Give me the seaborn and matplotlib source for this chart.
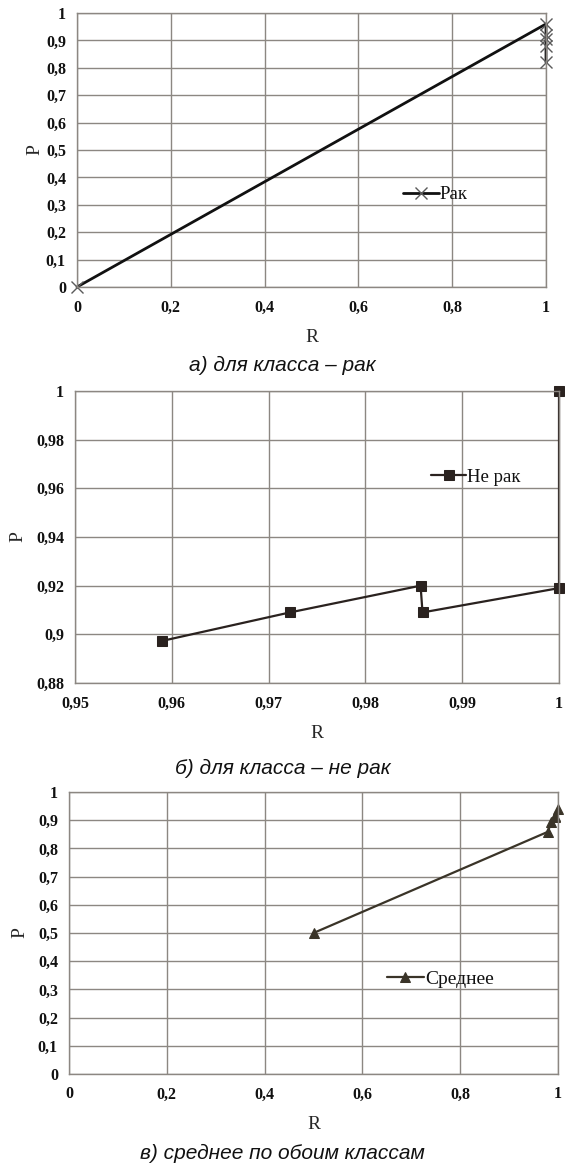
import matplotlib
matplotlib.use("Agg")
import matplotlib.pyplot as plt
import seaborn as sns
import pandas as pd

# ---- data ----
rak_R = [0.0, 1.0, 1.0, 1.0, 1.0, 1.0]
rak_P = [0.0, 0.96, 0.92, 0.905, 0.88, 0.82]

nerak_R = [0.959, 0.9722, 0.9857, 0.9859, 1.0, 1.0]
nerak_P = [0.8973, 0.909, 0.920, 0.909, 0.919, 1.0]

avg_R = [0.5, 0.9795, 0.986, 0.9929, 0.993, 1.0]
avg_P = [0.5, 0.859, 0.8945, 0.9125, 0.9145, 0.9395]

ticks_01 = [0, 0.1, 0.2, 0.3, 0.4, 0.5, 0.6, 0.7, 0.8, 0.9, 1.0]
ticks_01_labels = ["0", "0,1", "0,2", "0,3", "0,4", "0,5", "0,6", "0,7", "0,8", "0,9", "1"]
xticks_02 = [0, 0.2, 0.4, 0.6, 0.8, 1.0]
xticks_02_labels = ["0", "0,2", "0,4", "0,6", "0,8", "1"]
ticks_b_x = [0.95, 0.96, 0.97, 0.98, 0.99, 1.0]
ticks_b_x_labels = ["0,95", "0,96", "0,97", "0,98", "0,99", "1"]
ticks_b_y = [0.88, 0.90, 0.92, 0.94, 0.96, 0.98, 1.0]
ticks_b_y_labels = ["0,88", "0,9", "0,92", "0,94", "0,96", "0,98", "1"]

legend_rak = "Рак"
legend_nerak = "Не рак"
legend_avg = "Среднее"
captions = ["а) для класса – рак", "б) для класса – не рак", "в) среднее по обоим классам"]

sns.set_style("white")
plt.rcParams["font.family"] = ["Liberation Serif", "DejaVu Serif"]

fig = plt.figure(figsize=(5.65, 11.65), dpi=100)
grid_c = "#8c8782"

ax1 = fig.add_axes([77/565, 1-287/1165, 469/565, 274/1165])
ax2 = fig.add_axes([75/565, 1-683/1165, 484/565, 292/1165])
ax3 = fig.add_axes([69/565, 1-1074/1165, 489/565, 282/1165])

df1 = pd.DataFrame({"R": rak_R, "P": rak_P})
df2 = pd.DataFrame({"R": nerak_R, "P": nerak_P})
df3 = pd.DataFrame({"R": avg_R, "P": avg_P})

sns.lineplot(data=df1, x="R", y="P", sort=False, estimator=None, ax=ax1,
             color="#111111", lw=2.0, marker="x", markersize=8.5,
             markeredgecolor="#5a5a5a", markeredgewidth=1.0, label=legend_rak)
sns.lineplot(data=df2, x="R", y="P", sort=False, estimator=None, ax=ax2,
             color="#2a221f", lw=1.6, marker="s", markersize=7,
             markeredgecolor="#2a221f", markerfacecolor="#2a221f", label=legend_nerak)
sns.lineplot(data=df3, x="R", y="P", sort=False, estimator=None, ax=ax3,
             color="#3a3428", lw=1.6, marker="^", markersize=7,
             markeredgecolor="#3a3428", markerfacecolor="#3a3428", label=legend_avg)

specs = [
    (ax1, (0, 1), (0, 1), xticks_02, xticks_02_labels, ticks_01, ticks_01_labels, (0.695, 0.305), 13.5, 2),
    (ax2, (0.95, 1), (0.88, 1), ticks_b_x, ticks_b_x_labels, ticks_b_y, ticks_b_y_labels, (0.735, 0.675), 13.5, 6.5),
    (ax3, (0, 1), (0, 1), xticks_02, xticks_02_labels, ticks_01, ticks_01_labels, (0.65, 0.305), 14, 6.5),
]
for ax, xl, yl, xt, xtl, yt, ytl, lpos, lfs, ylp in specs:
    ax.set_xlim(*xl)
    ax.set_ylim(*yl)
    ax.set_xticks(xt)
    ax.set_xticklabels(xtl, fontsize=11.5, fontweight="bold")
    ax.set_yticks(yt)
    ax.set_yticklabels(ytl, fontsize=11.5, fontweight="bold")
    ax.tick_params(axis="x", length=0, pad=9)
    ax.tick_params(axis="y", length=0, pad=8)
    ax.grid(True, color=grid_c, lw=1.0)
    ax.set_axisbelow(True)
    for s in ax.spines.values():
        s.set_color(grid_c)
        s.set_linewidth(1.0)
    for lab in ax.get_xticklabels() + ax.get_yticklabels():
        lab.set_color("#111111")
    ax.set_xlabel("R", fontsize=14, labelpad=10)
    ax.set_ylabel("P", fontsize=14, labelpad=ylp)
    leg = ax.legend(loc=lpos, frameon=False, fontsize=lfs, handlelength=1.9,
                    handletextpad=0.05, borderpad=0, borderaxespad=0)
    for t in leg.get_texts():
        t.set_color("#111111")
    for c in ax.collections + ax.lines:
        c.set_clip_on(False)

cap_y = [365, 768, 1153]
for cy, txt in zip(cap_y, captions):
    fig.text(0.5, 1 - cy/1165, txt, ha="center", va="center", fontsize=15,
             style="italic", family=["Liberation Sans", "DejaVu Sans"], color="#111111")

fig.savefig("out.png", dpi=100, facecolor="white")
